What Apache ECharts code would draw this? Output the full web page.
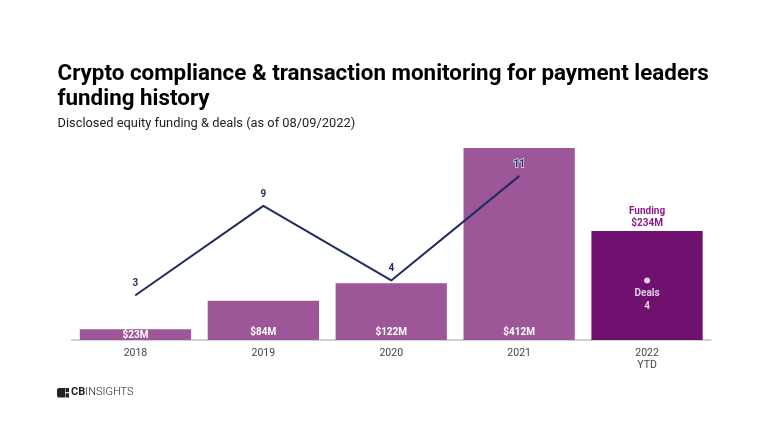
<!DOCTYPE html>
<html>
<head>
<meta charset="utf-8">
<style>html,body{margin:0;padding:0;background:#fff}#chart{width:768px;height:432px}</style>
<script src="https://cdn.jsdelivr.net/npm/echarts@6/dist/echarts.min.js"></script>
</head>
<body>
<div id="chart"></div>
<script>
var categories = ['2018', '2019', '2020', '2021', '2022\nYTD'];
var funding = [23, 84, 122, 412, 234];
var deals = [3, 9, 4, 11, null];
var dealsYtd = [null, null, null, null, 4];

var BAR = '#9d5799', BAR_YTD = '#70116f', NAVY = '#1f2d5c';

var chart = echarts.init(document.getElementById('chart'), null, { renderer: 'canvas' });
chart.setOption({
    animation: false,
    textStyle: { fontFamily: 'Roboto' },
    title: [
        {
            text: 'Crypto compliance & transaction monitoring for payment leaders\nfunding history',
            left: 57.5, top: 61.5, padding: 0,
            textStyle: { fontFamily: 'Roboto', fontSize: 22.4, fontWeight: 'bold', color: '#000', lineHeight: 25.5 }
        },
        {
            text: 'Disclosed equity funding & deals (as of 08/09/2022)',
            left: 57.5, top: 117, padding: 0,
            textStyle: { fontFamily: 'Roboto', fontSize: 12.85, fontWeight: 'normal', color: '#222' }
        }
    ],
    grid: { left: 71.5, right: 57, top: 148, height: 192 },
    xAxis: {
        type: 'category',
        data: categories,
        axisTick: { show: false },
        axisLine: { lineStyle: { color: '#c4c4c4', width: 1.5 } },
        axisLabel: { color: '#444', fontSize: 10.5, margin: 7, lineHeight: 12.5 }
    },
    yAxis: [
        { type: 'value', min: 0, max: 412, show: false },
        { type: 'value', min: 0, max: 12.886, show: false }
    ],
    series: [
        {
            type: 'bar',
            barCategoryGap: '13%',
            data: funding.map(function (v, i) {
                if (i === 4) {
                    return {
                        value: v,
                        itemStyle: { color: BAR_YTD },
                        label: {
                            position: 'top', distance: 1, color: '#8a1c8a', lineHeight: 12.5,
                            formatter: function (p) { return 'Funding\n$' + p.value + 'M'; }
                        }
                    };
                }
                return { value: v, label: { distance: i === 0 ? 0 : 3 } };
            }),
            itemStyle: { color: BAR },
            label: {
                show: true, position: 'insideBottom', color: '#fff', fontSize: 10, fontWeight: 'bold',
                formatter: function (p) { return '$' + p.value + 'M'; }
            }
        },
        {
            type: 'line',
            yAxisIndex: 1,
            z: 3,
            data: deals.map(function (v, i) {
                return i === 3 ? { value: v, label: { textBorderColor: '#e4dcec', textBorderWidth: 1.5 } } : v;
            }),
            symbol: 'circle',
            symbolSize: 1,
            itemStyle: { color: NAVY },
            lineStyle: { color: NAVY, width: 2 },
            label: { show: true, position: 'top', distance: 6, color: NAVY, fontSize: 10, fontWeight: 'bold' }
        },
        {
            type: 'scatter',
            yAxisIndex: 1,
            data: dealsYtd,
            symbol: 'circle',
            symbolSize: 6,
            itemStyle: { color: '#fff' },
            label: {
                show: true, position: 'bottom', distance: 4, color: '#fff', fontSize: 10, fontWeight: 'bold', lineHeight: 12.5,
                formatter: function (p) { return 'Deals\n' + p.value; }
            }
        }
    ],
    graphic: [
        { type: 'rect', shape: { x: 57, y: 388, width: 8, height: 9.5, r: [2, 0, 0, 2] }, style: { fill: '#222' } },
        { type: 'rect', shape: { x: 65.5, y: 388, width: 3.5, height: 4.2 }, style: { fill: '#222' } },
        { type: 'rect', shape: { x: 65.5, y: 393.3, width: 3.5, height: 4.2 }, style: { fill: '#222' } },
        {
            type: 'text', left: 71, top: 387,
            style: {
                text: '{b|CB}{l|INSIGHTS}',
                rich: {
                    b: { fontFamily: 'Roboto', fontSize: 11, fontWeight: 'bold', fill: '#222' },
                    l: { fontFamily: 'Roboto', fontSize: 11, fontWeight: 300, fill: '#222' }
                }
            }
        }
    ]
});
</script>
</body>
</html>
